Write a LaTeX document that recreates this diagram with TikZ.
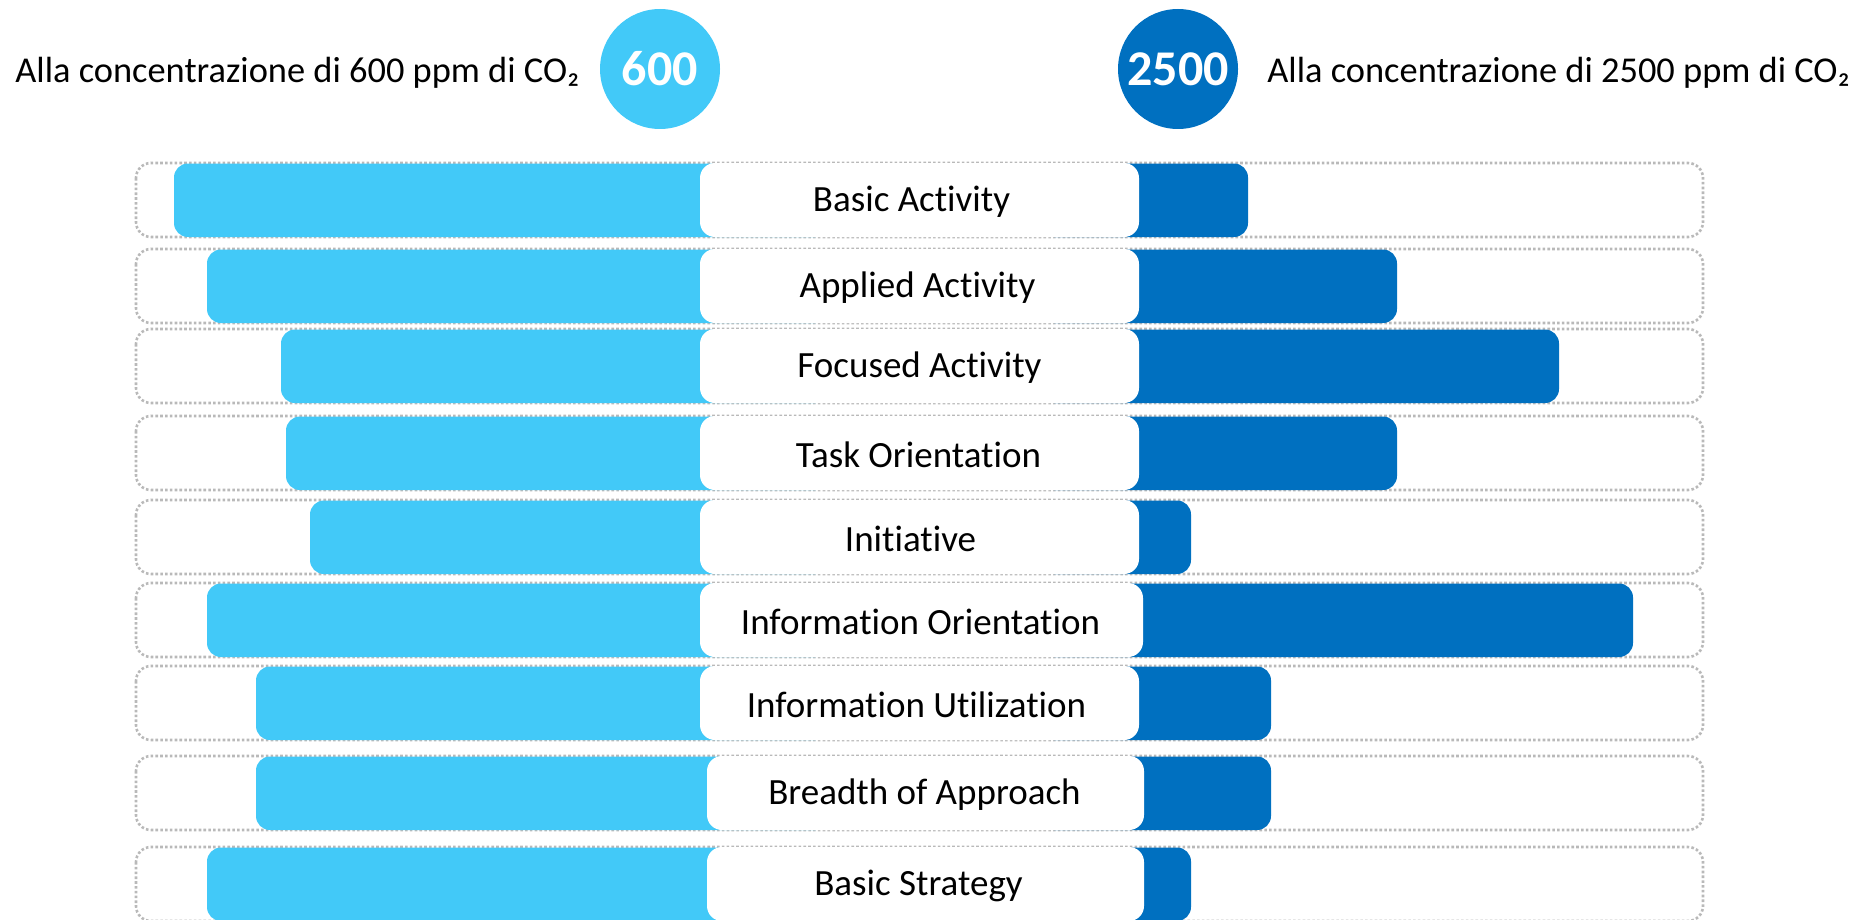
\documentclass[tikz,border=0pt]{standalone}
\usepackage{fontspec}
\setmainfont{Carlito}[Ligatures=NoCommon]
\definecolor{lightb}{RGB}{66,201,248}
\definecolor{darkb}{RGB}{0,112,192}
\definecolor{dotgray}{RGB}{185,185,185}
\begin{document}
\begin{tikzpicture}[x=0.5pt,y=-0.5pt,
  outerbox/.style={draw=dotgray, line width=1.3pt, dash pattern=on 1.3pt off 1.1pt, rounded corners=7.5pt},
  lightbar/.style={fill=lightb, rounded corners=7pt},
  darkbar/.style={fill=darkb, rounded corners=7pt},
  labelbox/.style={fill=white, rounded corners=7.5pt, inner sep=0pt, text=black, font=\fontsize{18.5}{22}\selectfont},
  circ/.style={circle, minimum size=60pt, inner sep=0pt, text=white, font=\bfseries\fontsize{25}{29}\selectfont},
  header/.style={font=\fontsize{18.2}{22}\selectfont, inner sep=0pt, text=black}]
\useasboundingbox (0,0) rectangle (1862,920);
\foreach \t/\ll/\dr/\la/\lb/\off/\txt [count=\i] in {
  163/174/1248/700/1139/-8/Basic Activity,
  249/207/1397/700/1139/-2/Applied Activity,
  329/281/1559/700/1139/0/Focused Activity,
  416/286/1397/700/1139/-1/Task Orientation,
  500/310/1191/700/1139/-9/Initiative,
  583/207/1633/700/1143/-1/Information Orientation,
  666/256/1271/700/1139/-3/Information Utilization,
  756/256/1271/707/1144/-1/Breadth of Approach,
  847/207/1191/707/1144/-7/Basic Strategy}{
  \draw[outerbox] (136,\t) rectangle (1703,\t+74);
  \fill[lightbar] (\ll,\t+0.5) rectangle (830,\t+74);
  \fill[darkbar] (1040,\t+0.5) rectangle (\dr,\t+74);
  \node[labelbox, minimum width={(\lb-\la)*0.5pt}, minimum height=37pt] (lab\i) at ({(\la+\lb)/2},\t+37) {};
  \node[inner sep=0pt, text=black, font=\fontsize{18.5}{22}\selectfont] (txt\i) at ([xshift=\off*0.5pt, yshift=-1pt]lab\i.center) {\txt};
}
\node[header, anchor=base west] (h1) at (15,83) {Alla concentrazione di 600 ppm di CO₂};
\node[circ, fill=lightb] (c1) at (660,69) {600};
\node[circ, fill=darkb] (c2) at (1178,69) {2500};
\node[header, anchor=base west] (h2) at (1267,83) {Alla concentrazione di 2500 ppm di CO₂};
\end{tikzpicture}
\end{document}
